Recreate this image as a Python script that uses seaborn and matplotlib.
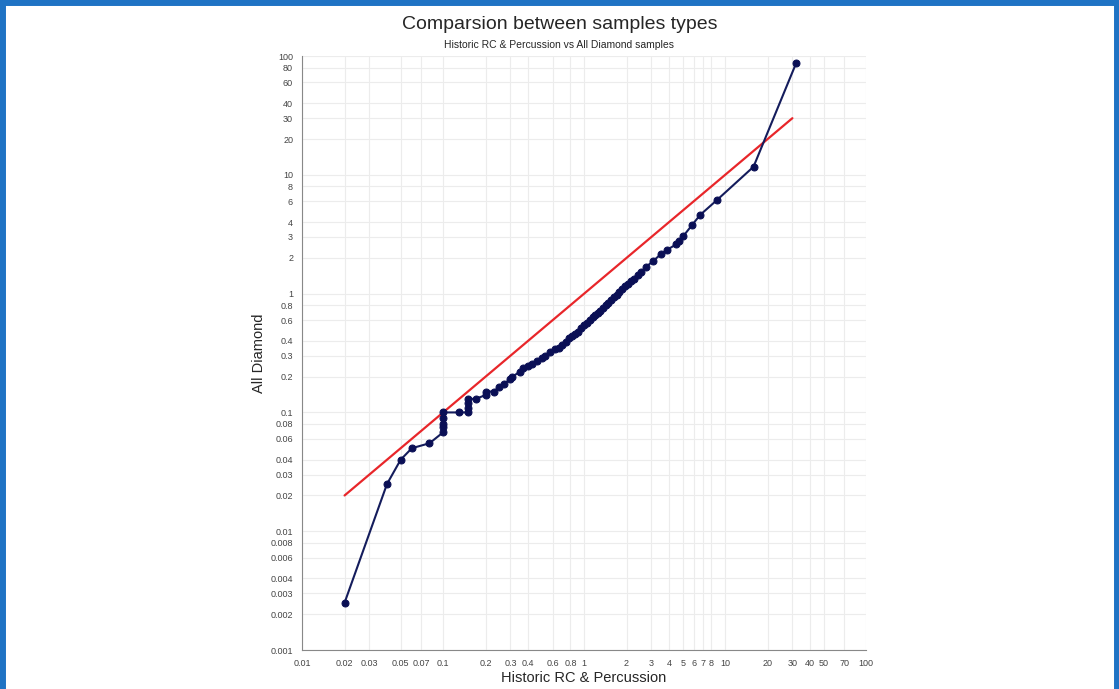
import numpy as np
import pandas as pd
import matplotlib
matplotlib.use('Agg')
import matplotlib.pyplot as plt
from matplotlib.ticker import FixedLocator, NullFormatter, NullLocator
import seaborn as sns

# quantiles
historic_rc = [0.02, 0.04, 0.05, 0.06, 0.08, 0.1, 0.1, 0.1, 0.1, 0.1,
               0.13, 0.15, 0.15, 0.15, 0.15, 0.17, 0.2, 0.2, 0.23, 0.25,
               0.27, 0.3, 0.31, 0.35, 0.37, 0.4, 0.43, 0.46, 0.5, 0.53,
               0.57, 0.62, 0.66, 0.7, 0.74, 0.78, 0.82, 0.86, 0.9, 0.95,
               1.0, 1.05, 1.1, 1.15, 1.2, 1.25, 1.3, 1.36, 1.42, 1.48,
               1.55, 1.62, 1.7, 1.78, 1.86, 1.95, 2.05, 2.15, 2.25, 2.4,
               2.55, 2.75, 3.1, 3.5, 3.9, 4.5, 4.7, 5.05, 5.8, 6.65,
               8.7, 15.9, 32]
all_diamond = [0.0025, 0.025, 0.04, 0.05, 0.055, 0.068, 0.075, 0.08, 0.09, 0.1,
               0.1, 0.1, 0.11, 0.12, 0.13, 0.13, 0.14, 0.15, 0.15, 0.165,
               0.175, 0.19, 0.2, 0.22, 0.235, 0.245, 0.255, 0.27, 0.29, 0.3,
               0.32, 0.34, 0.35, 0.37, 0.39, 0.42, 0.44, 0.46, 0.48, 0.51,
               0.54, 0.57, 0.6, 0.63, 0.66, 0.69, 0.72, 0.76, 0.8, 0.84,
               0.88, 0.93, 0.98, 1.03, 1.09, 1.15, 1.21, 1.27, 1.34, 1.43,
               1.53, 1.68, 1.89, 2.15, 2.35, 2.6, 2.75, 3.05, 3.75, 4.6,
               6.1, 11.7, 88]

ref_line = [0.02, 30]

x_ticks = [0.01, 0.02, 0.03, 0.05, 0.07, 0.1, 0.2, 0.3, 0.4, 0.6, 0.8, 1,
           2, 3, 4, 5, 6, 7, 8, 10, 20, 30, 40, 50, 70, 100]
y_ticks = [0.001, 0.002, 0.003, 0.004, 0.006, 0.008, 0.01, 0.02, 0.03, 0.04,
           0.06, 0.08, 0.1, 0.2, 0.3, 0.4, 0.6, 0.8, 1, 2, 3, 4, 6, 8, 10,
           20, 30, 40, 60, 80, 100]

df = pd.DataFrame({'historic': historic_rc, 'diamond': all_diamond})

sns.set_style('white')
plt.rcParams['font.family'] = ['Liberation Sans', 'DejaVu Sans']

fig = plt.figure(figsize=(11.19, 6.89), dpi=100)
ax = fig.add_axes([0.27, 0.0566, 0.504, 0.862])

sns.lineplot(x=ref_line, y=ref_line, color='#e8262a', linewidth=1.6, ax=ax)
sns.lineplot(data=df, x='historic', y='diamond', sort=False, estimator=None,
             color='#141c5c', linewidth=1.5, marker='o', markersize=5,
             markeredgecolor='#0a0f55', markerfacecolor='#0a0f55', ax=ax)

ax.set_xscale('log')
ax.set_yscale('log')
ax.set_xlim(0.01, 100)
ax.set_ylim(0.001, 100)

ax.xaxis.set_major_locator(FixedLocator(x_ticks))
ax.yaxis.set_major_locator(FixedLocator(y_ticks))
ax.xaxis.set_minor_locator(NullLocator())
ax.yaxis.set_minor_locator(NullLocator())
ax.set_xticklabels([f'{t:g}' for t in x_ticks])
ax.set_yticklabels([f'{t:g}' for t in y_ticks])
ax.tick_params(axis='both', labelsize=6.5, colors='#444444', length=3, width=0.6)

ax.grid(True, color='#ececec', linewidth=0.8)
ax.set_axisbelow(True)
for side in ['top', 'right']:
    ax.spines[side].set_visible(False)
for side in ['left', 'bottom']:
    ax.spines[side].set_color('#888888')
    ax.spines[side].set_linewidth(0.8)

ax.set_xlabel('Historic RC & Percussion', fontsize=10.5, labelpad=2)
ax.set_ylabel('All Diamond', fontsize=10.5, labelpad=3)

fig.text(0.5, 0.965, 'Comparsion between samples types', ha='center', va='center',
         fontsize=14)
fig.text(0.5, 0.935, 'Historic RC & Percussion vs All Diamond samples', ha='center',
         va='center', fontsize=7.5)

# blue frame around the image
frame = dict(color='#1f73c4', linewidth=5, transform=fig.transFigure, clip_on=False)
fig.add_artist(plt.Line2D([0.002, 0.002], [0, 1], **frame))
fig.add_artist(plt.Line2D([0.998, 0.998], [0, 1], **frame))
fig.add_artist(plt.Line2D([0, 1], [0.997, 0.997], **frame))

fig.savefig('out.png', dpi=100)
